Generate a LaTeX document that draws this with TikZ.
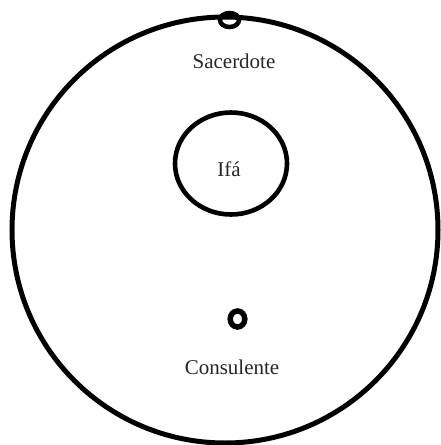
\documentclass[tikz,border=0pt]{standalone}
\usepackage{fontspec}
\setmainfont{Liberation Serif}
\begin{document}
\begin{tikzpicture}[x=1pt,y=-1pt,
  ring/.style={draw=black,line width=5pt},
  lbl/.style={font=\fontsize{21}{25}\selectfont,inner sep=0pt,text=black!85}]
\useasboundingbox (0,0) rectangle (440,445);
\draw[ring] (225,230) circle[radius=213];
\draw[ring,line width=4.5pt] (229.5,20) ellipse[x radius=9.5,y radius=7];
\draw[ring,line width=4.6pt] (231,163.5) ellipse[x radius=56,y radius=51];
\draw[ring,line width=5.5pt] (237.5,319) ellipse[x radius=7.3,y radius=8];
\node[lbl] (sac) at (234,61) {Sacerdote};
\node[lbl] (ifa) at (229,169) {Ifá};
\node[lbl] (con) at (232,367) {Consulente};
\end{tikzpicture}
\end{document}
